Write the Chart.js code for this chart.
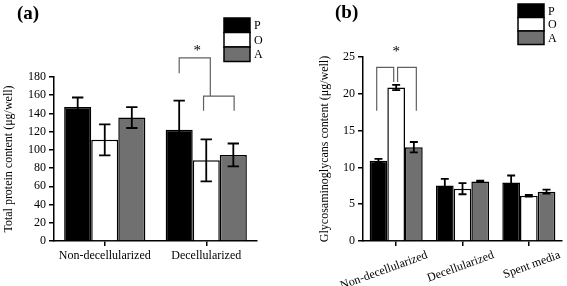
<!DOCTYPE html>
<html><head><meta charset="utf-8">
<script src="https://cdn.jsdelivr.net/npm/chart.js@4.4.1/dist/chart.umd.min.js"></script>
<style>
html,body{margin:0;padding:0;background:#fff;}
#wrap{position:relative;width:567px;height:286px;overflow:hidden;background:#fff;}
.panel{position:absolute;top:0;height:286px;}
#pa{left:0;width:283px;}
#pb{left:283px;width:284px;}
</style></head><body>
<div id="wrap">
  <div class="panel" id="pa"><canvas id="ca"></canvas></div>
  <div class="panel" id="pb"><canvas id="cb"></canvas></div>
</div>
<script>
// ---------- data ----------
const seriesNames = ['P', 'O', 'A'];

const categoriesA = ['Non-decellularized', 'Decellularized'];
const proteinP = [147, 122];
const proteinO = [111, 88.5];
const proteinA = [135.5, 94.5];
const proteinErrP = [10.5, 32];
const proteinErrO = [17, 23];
const proteinErrA = [11.5, 12.5];
const proteinTicks = [0, 20, 40, 60, 80, 100, 120, 140, 160, 180];

const categoriesB = ['Non-decellularized', 'Decellularized', 'Spent media'];
const gagP = [10.9, 7.55, 7.95];
const gagO = [20.85, 7.1, 6.15];
const gagA = [12.75, 8.1, 6.7];
const gagErrP = [0.25, 0.9, 0.95];
const gagErrO = [0.35, 0.75, 0.12];
const gagErrA = [0.7, 0.1, 0.27];
const gagTicks = [0, 5, 10, 15, 20, 25];

// ---------- styling ----------
const FONT = "'Liberation Serif', 'Times New Roman', serif";
const fillColors = ['#000000', '#ffffff', '#707070'];

function makeDatasets(values, errors) {
  return values.map((v, i) => ({
    label: seriesNames[i],
    data: v,
    errors: errors[i],
    backgroundColor: fillColors[i],
    borderColor: '#000',
    borderWidth: 1.5,
    categoryPercentage: 0.8,
    barPercentage: 1.0
  }));
}

const overlayPlugin = {
  id: 'overlay',
  afterDatasetsDraw(chart, args, opts) {
    const ctx = chart.ctx;
    const ys = chart.scales.y;
    ctx.save();
    // error bars
    chart.data.datasets.forEach((ds, i) => {
      const meta = chart.getDatasetMeta(i);
      meta.data.forEach((el, j) => {
        const v = ds.data[j], e = ds.errors[j];
        const yt = ys.getPixelForValue(v + e), yb = ys.getPixelForValue(v - e);
        const cw = el.width * opts.capFrac / 2;
        ctx.strokeStyle = '#000';
        ctx.lineWidth = opts.errWidth;
        ctx.beginPath();
        ctx.moveTo(el.x, yt); ctx.lineTo(el.x, yb);
        ctx.moveTo(el.x - cw, yt); ctx.lineTo(el.x + cw, yt);
        ctx.moveTo(el.x - cw, yb); ctx.lineTo(el.x + cw, yb);
        ctx.stroke();
      });
    });
    const px = (ref) => {
      const el = chart.getDatasetMeta(ref[0]).data[ref[1]];
      return el.x + ref[2] * el.width;
    };
    // brackets
    ctx.strokeStyle = '#606060';
    ctx.lineWidth = 1.2;
    (opts.brackets || []).forEach(b => {
      const x1 = px(b.from), x2 = px(b.to);
      const yt = ys.getPixelForValue(b.top);
      ctx.beginPath();
      ctx.moveTo(x1, ys.getPixelForValue(b.downFrom));
      ctx.lineTo(x1, yt); ctx.lineTo(x2, yt);
      ctx.lineTo(x2, ys.getPixelForValue(b.downTo));
      ctx.stroke();
    });
    // stars
    ctx.fillStyle = '#000';
    ctx.font = '15px ' + FONT;
    ctx.textAlign = 'center';
    ctx.textBaseline = 'middle';
    (opts.stars || []).forEach(s => {
      ctx.fillText('*', px(s.at), ys.getPixelForValue(s.value) + 3);
    });
    // legend
    const lg = opts.legend;
    chart.data.datasets.forEach((ds, i) => {
      const y = lg.y + i * lg.h;
      ctx.fillStyle = ds.backgroundColor;
      ctx.fillRect(lg.x, y, lg.w, lg.h);
      ctx.strokeStyle = '#000';
      ctx.lineWidth = 1.5;
      ctx.strokeRect(lg.x, y, lg.w, lg.h);
      ctx.fillStyle = '#000';
      ctx.font = lg.fontSize + 'px ' + FONT;
      ctx.textAlign = 'left';
      ctx.textBaseline = 'middle';
      ctx.fillText(ds.label, lg.x + lg.w + 4, y + lg.h / 2 + 1);
    });
    // panel tag
    ctx.font = 'bold 19px ' + FONT;
    ctx.textAlign = 'left';
    ctx.textBaseline = 'middle';
    ctx.fillText(opts.tag.text, opts.tag.x, opts.tag.y);
    ctx.restore();
  }
};

function axisCommon(tickFont) {
  return {
    grid: { display: true, drawOnChartArea: false, drawTicks: true, tickLength: 5, color: '#000', lineWidth: 1.5 },
    border: { display: true, color: '#000', width: 1.5 },
    ticks: { color: '#000', font: { family: FONT, size: tickFont } }
  };
}

function makeChart(canvasId, cfg) {
  const xAxis = axisCommon(12);
  xAxis.offset = true;
  xAxis.grid.offset = false;
  Object.assign(xAxis.ticks, cfg.xTicks);
  xAxis.afterFit = s => { s.height = cfg.xHeight; };
  const yAxis = axisCommon(12);
  yAxis.min = cfg.yTicks[0];
  yAxis.max = cfg.yTicks[cfg.yTicks.length - 1];
  yAxis.ticks.padding = 3;
  yAxis.afterBuildTicks = s => { s.ticks = cfg.yTicks.map(v => ({ value: v })); };
  yAxis.afterFit = s => { s.width = cfg.yWidth; };
  yAxis.title = { display: true, text: cfg.yTitle, color: '#000', font: { family: FONT, size: 12 }, padding: { top: cfg.yTitlePad, bottom: 0 } };
  return new Chart(document.getElementById(canvasId), {
    type: 'bar',
    data: { labels: cfg.labels, datasets: cfg.datasets },
    options: {
      responsive: true,
      maintainAspectRatio: false,
      animation: false,
      devicePixelRatio: 1,
      layout: { padding: cfg.padding },
      plugins: { legend: { display: false }, tooltip: { enabled: false }, overlay: cfg.overlay },
      scales: { x: xAxis, y: yAxis }
    },
    plugins: [overlayPlugin]
  });
}

makeChart('ca', {
  labels: categoriesA,
  datasets: makeDatasets([proteinP, proteinO, proteinA], [proteinErrP, proteinErrO, proteinErrA]),
  yTicks: proteinTicks,
  yTitle: 'Total protein content (\u03bcg/well)',
  yTitlePad: 2,
  yWidth: 54,
  xHeight: 45,
  xTicks: { padding: 3, maxRotation: 0, minRotation: 0, autoSkip: false },
  padding: { left: 0, top: 77, right: 26, bottom: 0 },
  overlay: {
    capFrac: 0.42, errWidth: 1.8,
    brackets: [
      { from: [0, 1, 0], to: [1, 1, 0.15], top: 201, downFrom: 184, downTo: 159 },
      { from: [1, 1, -0.1], to: [2, 1, 0.03], top: 159, downFrom: 143, downTo: 143 }
    ],
    stars: [{ at: [0, 1, 0.67], value: 212 }],
    legend: { x: 224, y: 18, w: 26, h: 14.5, fontSize: 12 },
    tag: { text: '(a)', x: 17, y: 14 }
  }
});

makeChart('cb', {
  labels: categoriesB,
  datasets: makeDatasets([gagP, gagO, gagA], [gagErrP, gagErrO, gagErrA]),
  yTicks: gagTicks,
  yTitle: 'Glycosaminoglycans content (\u03bcg/well)',
  yTitlePad: 35,
  yWidth: 80,
  xHeight: 45,
  xTicks: { padding: 2, maxRotation: 20, minRotation: 20, labelOffset: 31, autoSkip: false },
  padding: { left: 0, top: 57, right: 5, bottom: 0 },
  overlay: {
    capFrac: 0.45, errWidth: 1.8,
    brackets: [
      { from: [0, 0, -0.1], to: [1, 0, -0.14], top: 23.6, downFrom: 17.7, downTo: 21.6 },
      { from: [1, 0, 0.08], to: [2, 0, 0.14], top: 23.6, downFrom: 21.6, downTo: 17.7 }
    ],
    stars: [{ at: [1, 0, 0], value: 26.1 }],
    legend: { x: 235, y: 4, w: 26, h: 13.5, fontSize: 12 },
    tag: { text: '(b)', x: 52, y: 13 }
  }
});
</script>
</body></html>
